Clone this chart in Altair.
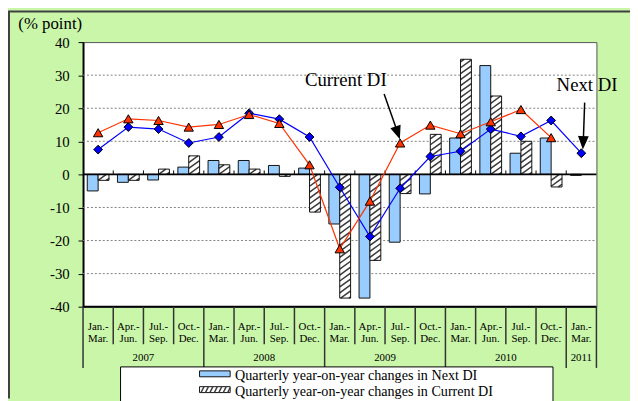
import altair as alt
import pandas as pd
import numpy as np

# ---------------- data ----------------
quarters = ["Jan.-\nMar.", "Apr.-\nJun.", "Jul.-\nSep.", "Oct.-\nDec."] * 4 + ["Jan.-\nMar."]
years = ["2007", "2008", "2009", "2010", "2011"]
year_quarters = [4, 4, 4, 4, 1]

next_di = [7.5, 14.3, 13.7, 9.5, 11.3, 18.5, 16.7, 11.3, -3.9, -18.8, -4.2, 5.4, 7.0, 13.7, 11.5, 16.3, 6.4]
current_di = [12.6, 16.8, 16.3, 14.3, 15.1, 18.1, 15.4, 2.9, -22.5, -8.1, 9.5, 14.9, 12.3, 15.9, 19.6, 11.1, None]
next_di_change = [-5.0, -2.4, -1.7, 2.2, 4.2, 4.2, 2.7, 1.9, -15.0, -37.4, -20.5, -5.9, 11.0, 32.9, 6.4, 11.0, -0.3]
current_di_change = [-1.8, -1.8, 1.6, 5.6, 2.9, 1.6, -0.6, -11.4, -37.4, -26.0, -5.8, 12.1, 34.8, 23.7, 10.0, -3.8, None]

y_ticks = [-40, -30, -20, -10, 0, 10, 20, 30, 40]
grid_vals = [-30, -20, -10, 10, 20, 30]

annot_text = ["Current DI", "Next DI"]
annot_x = [8.70, 16.69]
annot_y = [28.4, 27.1]
arrow_x1 = [9.97, 16.61]
arrow_y1 = [24.3, 21.7]
arrow_x2 = [10.36, 16.57]
arrow_y2 = [14.2, 11.1]
head_x = [10.41, 16.56]
head_y = [12.8, 9.8]
head_angle = [341, 2]

legend_labels = ["Quarterly year-on-year changes in Next DI",
                 "Quarterly year-on-year changes in Current DI"]

# ---------------- styling constants ----------------
FONT = "Liberation Serif"
W, H = 520, 268
N = len(quarters)
BAR_W = 0.36
GREEN = "#C9F6A9"

df = pd.DataFrame({
    "i": list(range(N)), "q": quarters, "next": next_di, "cur": current_di,
    "nchg": next_di_change, "cchg": current_di_change,
})

xs = alt.Scale(domain=[0, N], nice=False, zero=False)
ys = alt.Scale(domain=[-40, 40], nice=False, zero=False)
yaxis = alt.Axis(values=y_ticks, title="(% point)", titleAngle=0, titleAlign="left",
                 titleBaseline="middle", titleX=-66, titleY=-19, titleFont=FONT,
                 titleFontSize=17, titleFontWeight="normal", titleColor="black",
                 labelFont=FONT, labelFontSize=15, labelColor="black", labelPadding=9,
                 labelExpr="'' + datum.value",
                 tickColor="black", tickSize=5, domainColor="black", domainWidth=2,
                 grid=False)


def X(f):
    return alt.X(f, type="quantitative", scale=xs, axis=None)


def Y(f):
    return alt.Y(f, type="quantitative", scale=ys, axis=yaxis)


# hatch segments for current-DI bars (data units)
px_per_y = H / 80.0
spacing = 6.0 / px_per_y
rise = 8.0 / px_per_y
segs = []
for i, v in enumerate(current_di_change):
    if v is None:
        continue
    lo, hi = min(0.0, v), max(0.0, v)
    x0 = i + 0.5
    k0 = int(np.floor((lo - rise) / spacing))
    k1 = int(np.ceil(hi / spacing))
    for k in range(k0, k1 + 1):
        c = k * spacing
        t0 = max(0.0, (lo - c) / rise)
        t1 = min(1.0, (hi - c) / rise)
        if t1 - t0 > 1e-6:
            segs.append({"x1": x0 + t0 * BAR_W, "y1": c + rise * t0,
                         "x2": x0 + t1 * BAR_W, "y2": c + rise * t1})
hatch_df = pd.DataFrame(segs)

# ---------------- layers ----------------
grid = alt.Chart(pd.DataFrame({"g": grid_vals})).mark_rule(
    color="#808080", strokeDash=[2, 2], strokeWidth=1
).encode(y=Y("g"), x=alt.value(0), x2=alt.value(W))

calc = dict(bx="datum.i + 0.5 - %f" % BAR_W, bm="datum.i + 0.5",
            bx2="datum.i + 0.5 + %f" % BAR_W, zero="0", cx="datum.i + 0.5")

base = alt.Chart(df).transform_calculate(**calc)

blue_bars = base.mark_rect(fill="#99CCFF", stroke="#111111", strokeWidth=1).encode(
    x=X("bx"), x2=alt.X2("bm"), y=Y("zero"), y2=alt.Y2("nchg"))

hatch_fill = base.transform_filter("isValid(datum.cchg)").mark_rect(fill="white").encode(
    x=X("bm"), x2=alt.X2("bx2"), y=Y("zero"), y2=alt.Y2("cchg"))

hatch_lines = alt.Chart(hatch_df).mark_rule(color="#3a3a3a", strokeWidth=1.5).encode(
    x=X("x1"), y=Y("y1"), x2=alt.X2("x2"), y2=alt.Y2("y2"))

hatch_outline = base.transform_filter("isValid(datum.cchg)").mark_rect(
    fill=None, fillOpacity=0, stroke="#111111", strokeWidth=1).encode(
    x=X("bm"), x2=alt.X2("bx2"), y=Y("zero"), y2=alt.Y2("cchg"))

zero_df = pd.DataFrame({"z": [0], "b": [y_ticks[0]]})
zero_line = alt.Chart(zero_df).mark_rule(color="black", strokeWidth=2).encode(
    y=Y("z"), x=alt.value(0), x2=alt.value(W))
bottom_line = alt.Chart(zero_df).mark_rule(color="black", strokeWidth=2).encode(
    y=Y("b"), x=alt.value(0), x2=alt.value(W))

bounds = pd.DataFrame({"k": list(range(1, N))})
zero_ticks = alt.Chart(bounds).transform_calculate(z="0").mark_rule(
    color="black", strokeWidth=1).encode(x=X("k"), y=Y("z"), y2=alt.value(H / 2 - 4))

blue_line = base.mark_line(color="#0000FF", strokeWidth=1.2).encode(x=X("cx"), y=Y("next"))
red_line = base.transform_filter("isValid(datum.cur)").mark_line(
    color="#FF3300", strokeWidth=1.2).encode(x=X("cx"), y=Y("cur"))
blue_pts = base.mark_point(shape="diamond", filled=True, fill="#0000FF", stroke="black",
                           strokeWidth=1, size=80, opacity=1).encode(x=X("cx"), y=Y("next"))
red_pts = base.transform_filter("isValid(datum.cur)").mark_point(
    shape="triangle-up", filled=True, fill="#FF3300", stroke="black", strokeWidth=1,
    size=90, opacity=1).encode(x=X("cx"), y=Y("cur"))

# category axis labels
q_labels = base.mark_text(font=FONT, fontSize=11, lineBreak="\n", lineHeight=12,
                          baseline="middle", align="center", color="black").encode(
    x=X("cx"), y=alt.value(H + 21), text="q:N")

starts = np.concatenate([[0], np.cumsum(year_quarters)[:-1]])
ydf = pd.DataFrame({"year": years, "s": starts, "n": year_quarters})
y_labels = alt.Chart(ydf).transform_calculate(c="datum.s + datum.n / 2").mark_text(
    font=FONT, fontSize=11, baseline="middle", align="center", color="black").encode(
    x=X("c"), y=alt.value(H + 52), text="year:N")

year_bounds = sorted(set(list(starts) + [N]))
q_sep = alt.Chart(pd.DataFrame({"k": [k for k in range(1, N) if k not in year_bounds]})).mark_rule(
    color="#333333", strokeWidth=1.5).encode(x=X("k"), y=alt.value(H), y2=alt.value(H + 38))
y_sep = alt.Chart(pd.DataFrame({"k": year_bounds})).mark_rule(
    color="#333333", strokeWidth=1.5).encode(x=X("k"), y=alt.value(H), y2=alt.value(H + 62))

# annotations
adf = pd.DataFrame({"t": annot_text, "x": annot_x, "y": annot_y})
annot = alt.Chart(adf).mark_text(font=FONT, fontSize=19, baseline="middle", align="center",
                                 color="black").encode(x=X("x"), y=Y("y"), text="t:N")
arr_df = pd.DataFrame({"x1": arrow_x1, "y1": arrow_y1, "x2": arrow_x2, "y2": arrow_y2,
                       "hx": head_x, "hy": head_y, "a": head_angle})
arrows = alt.Chart(arr_df).mark_rule(color="black", strokeWidth=1.5).encode(
    x=X("x1"), y=Y("y1"), x2=alt.X2("x2"), y2=alt.Y2("y2"))
heads = alt.Chart(arr_df).mark_point(shape="M-0.8,-1L0.8,-1L0,1Z", filled=True, fill="black",
                                     stroke="black", size=100, opacity=1).encode(
    x=X("hx"), y=Y("hy"), angle=alt.Angle("a:Q", scale=None))

# legend (drawn below the category axis)
one = pd.DataFrame({"d": [0]})
LX0, LX1, LY0 = 38, 476, 329
leg_box = alt.Chart(one).mark_rect(fill="white", stroke="black", strokeWidth=1).encode(
    x=alt.value(LX0), x2=alt.value(LX1), y=alt.value(LY0), y2=alt.value(LY0 + 60))
SX0, SX1 = 118, 149
leg_sw1 = alt.Chart(one).mark_rect(fill="#99CCFF", stroke="#111111", strokeWidth=1).encode(
    x=alt.value(SX0), x2=alt.value(SX1), y=alt.value(333), y2=alt.value(339))
leg_sw2 = alt.Chart(one).mark_rect(fill="white", stroke="#111111", strokeWidth=1).encode(
    x=alt.value(SX0), x2=alt.value(SX1), y=alt.value(349), y2=alt.value(355))
sw_segs = []
for xb in np.arange(SX0 - 3, SX1 + 1, 4.5):
    xa, xe = max(xb, SX0), min(xb + 3, SX1)
    if xe > xa:
        sw_segs.append({"x1": xa, "x2": xe,
                        "y1": 355 - (xa - xb) * 2, "y2": 355 - (xe - xb) * 2})
leg_hatch_layers = [alt.Chart(one).mark_rule(color="#3a3a3a", strokeWidth=1.4).encode(
    x=alt.value(s["x1"]), x2=alt.value(s["x2"]), y=alt.value(s["y1"]), y2=alt.value(s["y2"]))
    for s in sw_segs]
leg_text = alt.Chart(pd.DataFrame({"t": legend_labels, "r": [0, 1]})).transform_calculate(
    yy="342 + datum.r * 16").mark_text(font=FONT, fontSize=14.3, align="left",
                                      baseline="alphabetic", color="black").encode(
    x=alt.value(154), y=alt.Y("yy:Q", scale=None), text="t:N")

# outer frame (left and top edges)
frame_l = alt.Chart(one).mark_rule(color="#404040", strokeWidth=2).encode(
    x=alt.value(-75), y=alt.value(-31), y2=alt.value(H + 93))
frame_t = alt.Chart(one).mark_rule(color="#404040", strokeWidth=2).encode(
    y=alt.value(-31), x=alt.value(-76), x2=alt.value(W + 34))

chart = alt.layer(
    grid, blue_bars, hatch_fill, hatch_lines, hatch_outline, zero_line, bottom_line,
    zero_ticks, blue_line, red_line, blue_pts, red_pts, q_labels, y_labels, q_sep, y_sep,
    annot, arrows, heads, leg_box, leg_sw1, leg_sw2, *leg_hatch_layers, leg_text,
    frame_l, frame_t,
).properties(
    width=W, height=H,
    padding={"left": 76, "top": 32, "right": 34, "bottom": 93},
    autosize=alt.AutoSizeParams(type="none"),
).configure(
    background=GREEN, font=FONT
).configure_axis(
    labelFont=FONT, titleFont=FONT
).configure_text(font=FONT).configure_view(fill="white", stroke="#555555", strokeWidth=1)

chart.save("out.html", embed_options={"renderer": "svg", "actions": False})
